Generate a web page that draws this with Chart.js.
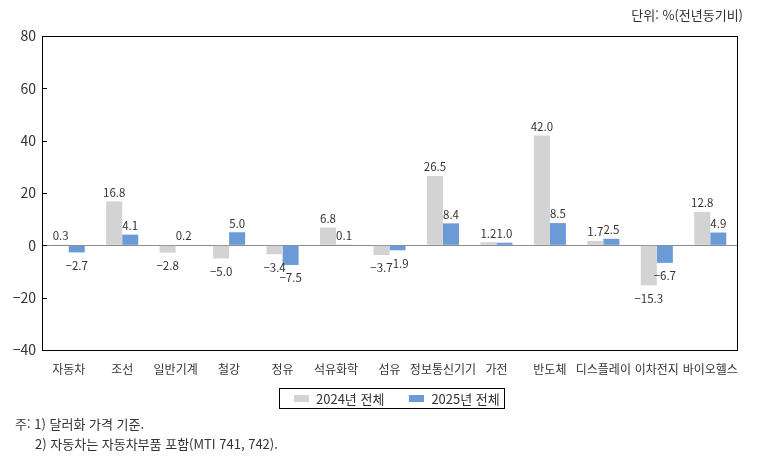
<!DOCTYPE html>
<html lang="ko">
<head>
<meta charset="utf-8">
<title>품목별 수출 증감률</title>
<script src="https://cdn.jsdelivr.net/npm/chart.js@4.4.1/dist/chart.umd.min.js"></script>
<style>
    body { margin: 0; background: #fff; font-family: "Noto Sans CJK KR", sans-serif; color: #333; }
    #wrap { position: relative; width: 773px; height: 460px; }
    #unit { position: absolute; right: 30px; top: 5px; font-size: 13px; }
    #legend { position: absolute; left: 279px; top: 388px; height: 19px; width: 224px;
              border: 1px solid #000; display: flex; align-items: center; font-size: 13px; box-sizing: content-box; }
    .item { display: flex; align-items: center; margin-left: 14px; }
    .item + .item { margin-left: 25px; }
    .swatch { width: 15px; height: 7px; margin-right: 7px; }
    .note { position: absolute; font-size: 13px; line-height: 16px; }
</style>
</head>
<body>
<div id="wrap">
    <canvas id="exportChart"></canvas>
    <div id="unit">단위: %(전년동기비)</div>
    <div id="legend"></div>
    <div class="note" style="left:15px; top:416px;">주: 1) 달러화 가격 기준.</div>
    <div class="note" style="left:35px; top:436px;">2) 자동차는 자동차부품 포함(MTI 741, 742).</div>
</div>

<script>
// ========== DATA ========== //
const categories = ["자동차", "조선", "일반기계", "철강", "정유", "석유화학", "섬유",
                    "정보통신기기", "가전", "반도체", "디스플레이", "이차전지", "바이오헬스"];
const seriesNames = ["2024년 전체", "2025년 전체"];
const values2024 = [0.3, 16.8, -2.8, -5.0, -3.4, 6.8, -3.7, 26.5, 1.2, 42.0, 1.7, -15.3, 12.8];
const values2025 = [-2.7, 4.1, 0.2, 5.0, -7.5, 0.1, -1.9, 8.4, 1.0, 8.5, 2.5, -6.7, 4.9];
const yTicks = [-40, -20, 0, 20, 40, 60, 80];

const minus = s => String(s).replace("-", "−");

Chart.defaults.font.family = '"Noto Sans CJK KR", sans-serif';
Chart.defaults.color = "#333";

// ========== PLUGINS ========== //
// frame round the plot area + short inward ticks on the y axis
const framePlugin = {
    id: "frame",
    afterDraw(chart) {
        const { ctx, chartArea: a, scales: { y } } = chart;
        ctx.save();
        ctx.strokeStyle = "#000";
        ctx.lineWidth = 1;
        ctx.strokeRect(a.left + 0.5, a.top + 0.5, a.right - a.left, a.bottom - a.top);
        ctx.beginPath();
        yTicks.forEach(v => {
            const py = Math.round(y.getPixelForValue(v)) + 0.5;
            ctx.moveTo(a.left, py);
            ctx.lineTo(a.left + 5, py);
        });
        ctx.stroke();
        ctx.restore();
    }
};

// value labels above / below each bar
const valueLabels = {
    id: "valueLabels",
    afterDatasetsDraw(chart) {
        const { ctx } = chart;
        ctx.save();
        ctx.font = '11.5px "Noto Sans CJK KR", sans-serif';
        ctx.fillStyle = "#333";
        ctx.textAlign = "center";
        ctx.textBaseline = "middle";
        chart.data.datasets.forEach((ds, di) => {
            chart.getDatasetMeta(di).data.forEach((bar, i) => {
                const v = ds.data[i];
                const y = v >= 0 ? bar.y - 9 : bar.y + 13;
                ctx.fillText(minus(v.toFixed(1)), bar.x, y);
            });
        });
        ctx.restore();
    }
};

// ========== CHART ========== //
const chart = new Chart(document.getElementById("exportChart"), {
    type: "bar",
    data: {
        labels: categories,
        datasets: [{
            label: seriesNames[0],
            data: values2024,
            backgroundColor: "#d3d3d3",
            categoryPercentage: 0.6,
            barPercentage: 1.0
        }, {
            label: seriesNames[1],
            data: values2025,
            backgroundColor: "#6a9bd6",
            categoryPercentage: 0.6,
            barPercentage: 1.0
        }]
    },
    options: {
        responsive: true,
        maintainAspectRatio: false,
        animation: false,
        layout: { padding: { top: 36, right: 36, bottom: 76, left: 0 } },
        plugins: {
            legend: { display: false },
            tooltip: { enabled: false }
        },
        scales: {
            x: {
                grid: { display: false },
                border: { display: false },
                ticks: { font: { size: 12 }, color: "#333", padding: 4, maxRotation: 0, autoSkip: false },
                afterFit(scale) { scale.height = 34; }
            },
            y: {
                min: -40,
                max: 80,
                border: { display: false },
                grid: {
                    drawTicks: false,
                    color: c => (c.tick && c.tick.value === 0) ? "#8c8c8c" : "transparent"
                },
                ticks: {
                    stepSize: 20,
                    padding: 6,
                    font: { size: 14 },
                    color: "#333",
                    callback: v => minus(v)
                },
                afterFit(scale) { scale.width = 42; }
            }
        }
    },
    plugins: [framePlugin, valueLabels]
});

// ========== HTML LEGEND ========== //
const legendBox = document.getElementById("legend");
chart.data.datasets.forEach(ds => {
    const item = document.createElement("div");
    item.className = "item";
    const sw = document.createElement("span");
    sw.className = "swatch";
    sw.style.background = ds.backgroundColor;
    const txt = document.createElement("span");
    txt.textContent = ds.label;
    item.appendChild(sw);
    item.appendChild(txt);
    legendBox.appendChild(item);
});
</script>
</body>
</html>
